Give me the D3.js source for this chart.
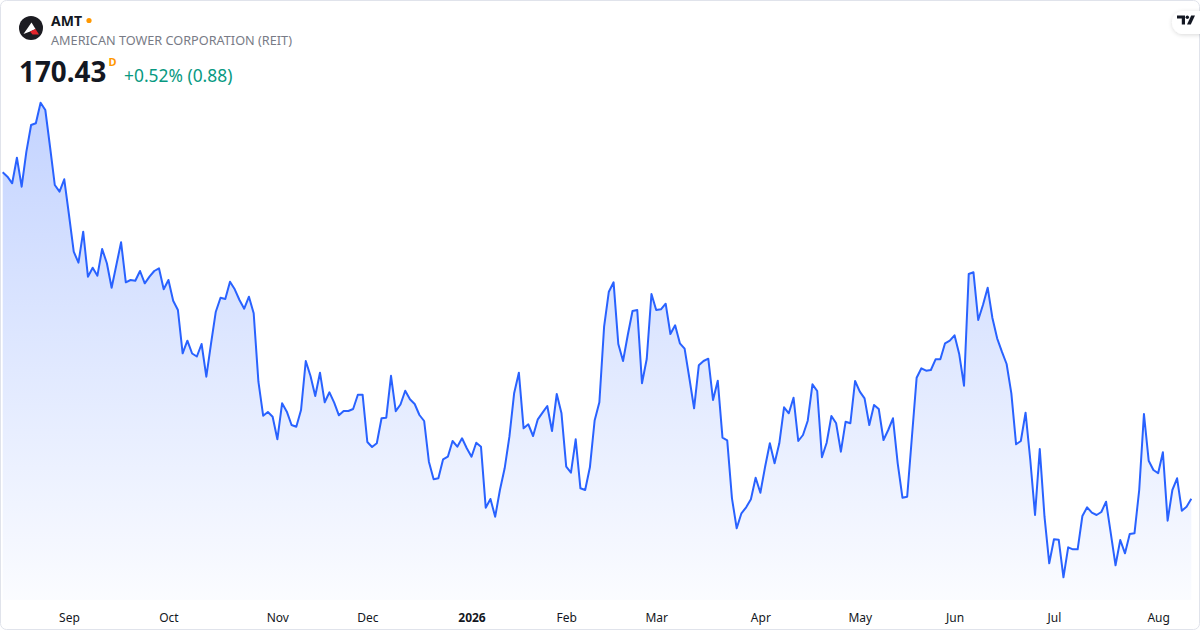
<!DOCTYPE html>
<head>
	<meta charset="utf-8">
	<script src="https://d3js.org/d3.v7.min.js"></script>
	<style>
		body { margin: 0; background: #fff; }
		svg text { font-family: "Noto Sans", "Open Sans", sans-serif; }
	</style>
</head>

<body>
	<script type="text/javascript">
		// Size of the snapshot
		var width = 1200;
		var height = 630;

		// Daily closes, one per trading day (Aug 2025 - Aug 2026)
		var closes = [
			203.07, 202.63, 201.97, 204.53, 201.63, 205.13, 207.80, 207.97, 210.03, 209.30,
			205.60, 201.80, 201.13, 202.37, 198.80, 195.13, 194.03, 197.13, 192.63, 193.53,
			192.73, 195.40, 193.97, 191.53, 193.80, 196.07, 192.07, 192.30, 192.23, 193.20,
			191.97, 192.63, 193.20, 193.47, 191.37, 192.30, 190.23, 189.30, 184.97, 186.23,
			184.95, 184.65, 185.90, 182.63, 185.97, 189.13, 190.53, 190.40, 192.13, 191.37,
			190.30, 189.43, 190.63, 188.97, 182.13, 178.73, 179.10, 178.63, 176.37, 179.97,
			179.13, 177.80, 177.63, 179.30, 184.20, 182.70, 180.70, 183.03, 180.07, 181.07,
			180.03, 178.77, 179.20, 179.20, 179.40, 180.83, 180.83, 176.10, 175.60, 175.97,
			178.47, 178.53, 182.72, 179.18, 179.85, 181.23, 180.37, 179.90, 178.80, 178.20,
			174.13, 172.37, 172.47, 174.37, 174.63, 176.20, 175.63, 176.47, 175.47, 174.63,
			176.03, 175.63, 169.53, 170.40, 168.63, 171.30, 173.47, 176.63, 180.97, 183.03,
			177.47, 177.87, 176.70, 178.37, 179.03, 179.70, 177.20, 180.90, 178.97, 173.63,
			173.03, 176.37, 171.47, 171.30, 173.57, 178.25, 180.08, 187.63, 191.13, 192.07,
			185.90, 184.20, 186.80, 189.20, 189.30, 181.97, 184.40, 190.90, 189.30, 189.37,
			189.93, 186.90, 187.77, 185.97, 185.43, 182.50, 179.47, 183.77, 184.20, 184.43,
			180.30, 182.23, 176.53, 176.27, 170.47, 167.47, 168.97, 169.57, 170.37, 172.53,
			171.03, 173.63, 175.97, 173.97, 175.97, 179.57, 178.97, 180.53, 176.20, 176.80,
			178.23, 181.87, 181.20, 174.57, 176.03, 178.70, 177.97, 175.13, 178.13, 177.97,
			182.20, 181.13, 180.47, 177.80, 179.80, 179.40, 176.30, 177.30, 178.47, 173.97,
			170.53, 170.63, 176.60, 182.53, 183.47, 183.23, 183.30, 184.37, 184.37, 185.97,
			186.23, 186.77, 184.87, 181.73, 192.90, 193.07, 188.30, 189.80, 191.53, 188.50,
			186.47, 185.13, 183.90, 180.97, 175.87, 176.20, 179.03, 174.30, 168.80, 175.40,
			168.63, 163.97, 166.37, 166.33, 162.57, 165.57, 165.37, 165.37, 168.70, 169.57,
			169.03, 168.80, 169.10, 170.13, 166.97, 163.77, 166.30, 164.97, 166.90, 166.97,
			171.30, 178.90, 174.23, 173.30, 172.97, 175.07, 168.23, 171.30, 172.47, 169.23,
			169.63, 170.43
		];

		// First trading day of each month (bar index) and its label
		var monthTicks = [14, 35, 58, 77, 99, 119, 138, 160, 181, 201, 222, 244];
		var monthLabels = ["Sep", "Oct", "Nov", "Dec", "2026", "Feb", "Mar", "Apr", "May", "Jun", "Jul", "Aug"];

		// Header texts
		var symbol = "AMT";
		var companyName = "AMERICAN TOWER CORPORATION (REIT)";
		var lastPrice = "170.43";
		var change = "+0.52% (0.88)";

		var svg = d3.select('body').append('svg')
			.attr('width', width)
			.attr('height', height);

		var defs = svg.append('defs');
		var grad = defs.append('linearGradient')
			.attr('id', 'areaFill')
			.attr('gradientUnits', 'userSpaceOnUse')
			.attr('x1', 0).attr('y1', 102)
			.attr('x2', 0).attr('y2', 600);
		grad.append('stop').attr('offset', 0).attr('stop-color', '#2962ff').attr('stop-opacity', 0.28);
		grad.append('stop').attr('offset', 1).attr('stop-color', '#2962ff').attr('stop-opacity', 0.02);

		var shadow = defs.append('filter').attr('id', 'pillShadow')
			.attr('x', '-50%').attr('y', '-50%').attr('width', '200%').attr('height', '200%');
		shadow.append('feDropShadow')
			.attr('dx', 0).attr('dy', 1).attr('stdDeviation', 2)
			.attr('flood-color', '#000').attr('flood-opacity', 0.15);

		// card background + border
		svg.append('rect')
			.attr('x', 0.5).attr('y', 0.5)
			.attr('width', width - 1).attr('height', height - 1)
			.attr('rx', 6)
			.attr('fill', '#fff')
			.attr('stroke', '#e0e3eb');

		// scales: bar index -> x, price -> y
		var x = d3.scaleLinear()
			.domain([0, closes.length - 1])
			.range([2.7, 1191.3]);

		var y = d3.scaleLinear()
			.domain(d3.extent(closes))
			.range([577.3, 102.7]);

		var area = d3.area()
			.x(function(d, i) { return x(i); })
			.y0(600)
			.y1(function(d) { return y(d); });

		var line = d3.line()
			.x(function(d, i) { return x(i); })
			.y(function(d) { return y(d); });

		svg.append('path')
			.datum(closes)
			.attr('d', area)
			.attr('fill', 'url(#areaFill)');

		svg.append('path')
			.datum(closes)
			.attr('d', line)
			.attr('fill', 'none')
			.attr('stroke', '#2962ff')
			.attr('stroke-width', 2)
			.attr('stroke-linejoin', 'round');

		// month axis
		var xAxis = d3.axisBottom(x)
			.tickValues(monthTicks)
			.tickFormat(function(d, i) { return monthLabels[i]; })
			.tickSize(0)
			.tickPadding(6.5);

		var axisG = svg.append('g')
			.attr('transform', 'translate(0,607)')
			.call(xAxis);
		axisG.select('.domain').remove();
		axisG.selectAll('text')
			.attr('font-size', 12)
			.attr('fill', '#131722')
			.attr('font-family', '"Noto Sans", "Open Sans", sans-serif')
			.attr('font-weight', function(d, i) { return monthLabels[i] === "2026" ? 'bold' : 'normal'; });

		// logo
		svg.append('circle')
			.attr('cx', 31).attr('cy', 28).attr('r', 12)
			.attr('fill', '#1c1c22');
		svg.append('path')
			.attr('d', 'M23.5,34 L31.5,22.5 L35.5,29 L30,31.5 Z')
			.attr('fill', '#fff');
		svg.append('path')
			.attr('d', 'M30,31.5 L35.5,29 L39,34.5 L32.5,34.5 Z')
			.attr('fill', '#e3242b');

		// header
		svg.append('text')
			.attr('x', 51).attr('y', 26)
			.attr('font-size', 14)
			.attr('font-weight', 'bold')
			.attr('fill', '#131722')
			.text(symbol);
		svg.append('circle')
			.attr('cx', 89).attr('cy', 20.5).attr('r', 2.6)
			.attr('fill', '#ff9800');

		svg.append('text')
			.attr('x', 51).attr('y', 45)
			.attr('font-size', 12.7)
			.attr('fill', '#787b86')
			.text(companyName);

		svg.append('text')
			.attr('x', 19).attr('y', 82)
			.attr('font-size', 27.8)
			.attr('font-weight', 'bold')
			.attr('fill', '#131722')
			.text(lastPrice);
		svg.append('text')
			.attr('x', 108.5).attr('y', 66)
			.attr('font-size', 11)
			.attr('font-weight', 'bold')
			.attr('fill', '#ff9800')
			.text('D');

		svg.append('text')
			.attr('x', 124).attr('y', 81.5)
			.attr('font-size', 17.4)
			.attr('fill', '#089981')
			.text(change);

		// TradingView badge, top right
		svg.append('rect')
			.attr('x', 1172).attr('y', 11)
			.attr('width', 40).attr('height', 23)
			.attr('rx', 11.5)
			.attr('fill', '#fff')
			.attr('filter', 'url(#pillShadow)');
		svg.append('path')
			.attr('d', 'M1177,15.5 H1185 V24.5 H1181.8 V18.5 H1177 Z')
			.attr('fill', '#131722');
		svg.append('circle')
			.attr('cx', 1187.3).attr('cy', 17.2).attr('r', 1.7)
			.attr('fill', '#131722');
		svg.append('path')
			.attr('d', 'M1191.2,15.5 H1195 L1190.8,24.5 H1187 Z')
			.attr('fill', '#131722');
	</script>
</body>
